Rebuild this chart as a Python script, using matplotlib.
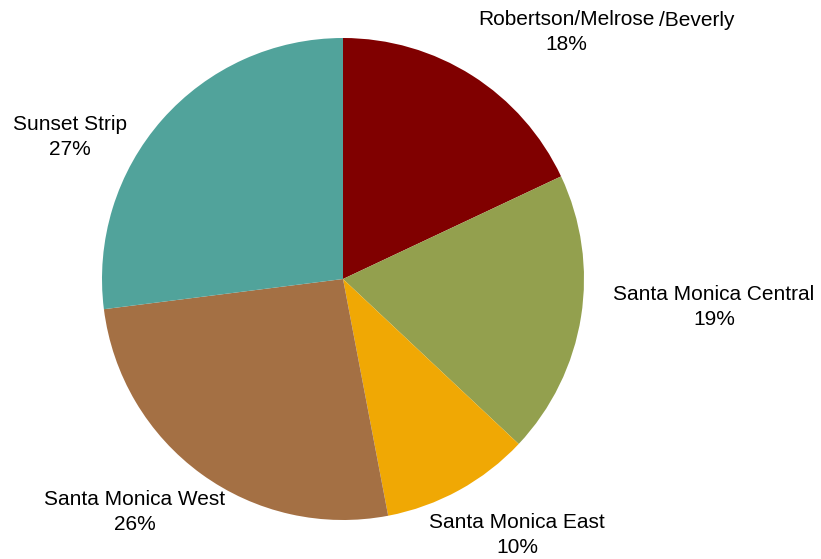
import matplotlib.pyplot as plt

plt.rcParams['font.family'] = ['Liberation Sans', 'DejaVu Sans']

areas = ["Robertson/Melrose", "Santa Monica Central", "Santa Monica East",
         "Santa Monica West", "Sunset Strip"]
shares = [18, 19, 10, 26, 27]
colors = ["#800000", "#93A04E", "#F0A804", "#A47044", "#51A39B"]

# label block centres in pixel coordinates (y measured from the top)
label_pos = [(566, 32), (714, 307), (517, 535), (135, 512), (70, 137)]

W, H = 821, 559
fig = plt.figure(figsize=(W / 100, H / 100), dpi=100)
ax = fig.add_axes([0, 0, 1, 1])

ax.pie(shares, colors=colors, startangle=90, counterclock=False,
       center=(343, H - 279), radius=241, frame=True)
ax.set_xlim(0, W)
ax.set_ylim(0, H)
ax.set_aspect('equal')
ax.axis('off')

for name, val, (x, y) in zip(areas, shares, label_pos):
    ax.text(x, H - y, f"{name}\n{val}%", ha='center', va='center',
            fontsize=15, linespacing=1.4)

# the first area's name runs past its label block
ax.text(659, H - 20, "/Beverly", ha='left', va='center', fontsize=15)

fig.savefig("out.png", dpi=100)
